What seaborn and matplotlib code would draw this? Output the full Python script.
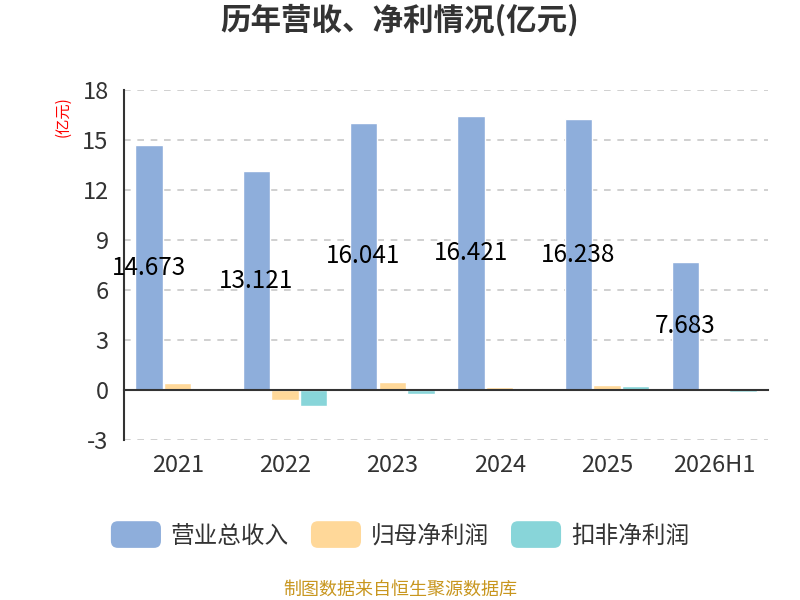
import numpy as np
import pandas as pd
import seaborn as sns
import matplotlib.pyplot as plt
from matplotlib.patches import FancyBboxPatch
from matplotlib.legend_handler import HandlerPatch
from matplotlib.ticker import FixedLocator

# data (亿元)
years = ['2021', '2022', '2023', '2024', '2025', '2026H1']
revenue = [14.673, 13.121, 16.041, 16.421, 16.238, 7.683]
net_profit = [0.39, -0.63, 0.45, 0.18, 0.30, -0.07]
deducted_profit = [0.09, -0.95, -0.25, 0.10, 0.22, -0.11]
series_names = ['营业总收入', '归母净利润', '扣非净利润']
colors = ['#8eaedb', '#ffd899', '#88d5d9']

df = pd.DataFrame({
    'year': years * 3,
    'value': revenue + net_profit + deducted_profit,
    'series': [n for n in series_names for _ in years],
})

sns.set_theme(style='white')
plt.rcParams['font.family'] = ['Noto Sans CJK SC', 'DejaVu Sans']
plt.rcParams['axes.unicode_minus'] = False

fig = plt.figure(figsize=(8, 6), dpi=100)
ax = fig.add_axes([0.155, 0.267, 0.805, 0.583])

sns.barplot(data=df, x='year', y='value', hue='series', palette=colors,
            saturation=1, width=0.8, gap=0.04, ax=ax, legend=False, zorder=2)

ax.set_ylim(-3, 18)
ax.set_xlim(-0.5, len(years) - 0.5)
ax.set_yticks(np.arange(-3, 19, 3))
ax.yaxis.grid(True, linestyle=(0, (4, 4)), color='#c8c8c8', linewidth=1.2, zorder=0)
ax.set_axisbelow(True)

# value labels for revenue, placed at half height of the bar
for i, v in enumerate(revenue):
    ax.text(i - 0.27, v / 2, f'{v:.3f}', ha='center', va='center',
            fontsize=17.5, color='black', zorder=5)

for side in ['top', 'right']:
    ax.spines[side].set_visible(False)
ax.spines['left'].set_color('#333333')
ax.spines['left'].set_linewidth(1.5)
ax.spines['bottom'].set_position(('data', 0))
ax.spines['bottom'].set_color('#333333')
ax.spines['bottom'].set_linewidth(1.5)
ax.spines['bottom'].set_zorder(4)

ax.xaxis.set_minor_locator(FixedLocator(np.arange(0.5, len(years), 1)))
ax.tick_params(axis='x', which='major', length=0, pad=46, labelsize=17, labelcolor='#333333')
ax.tick_params(axis='x', which='minor', length=7, width=1.5, color='#333333', direction='out')
ax.tick_params(axis='y', length=7, width=1.5, color='#333333', labelsize=17, labelcolor='#333333', pad=4)
ax.set_xlabel('')
ax.set_ylabel('(亿元)', color='red', fontsize=11)
ax.yaxis.set_label_coords(-0.082, 0.925)

fig.suptitle('历年营收、净利情况(亿元)', x=0.5, y=0.993, fontsize=22, fontweight='bold', color='#333333')


class RoundHandler(HandlerPatch):
    def create_artists(self, legend, orig_handle, xdescent, ydescent, width, height, fontsize, trans):
        p = FancyBboxPatch((-xdescent, -ydescent - 2), width, height + 4,
                           boxstyle='round,pad=0,rounding_size=5',
                           facecolor=orig_handle.get_facecolor(), edgecolor='none',
                           transform=trans)
        return [p]


handles = [plt.Rectangle((0, 0), 1, 1, facecolor=c) for c in colors]
fig.legend(handles, series_names, loc='center', bbox_to_anchor=(0.5, 0.107),
           ncol=3, frameon=False, fontsize=17, handlelength=2.12, handleheight=1.0,
           columnspacing=0.93, handletextpad=0.42, labelcolor='#333333',
           handler_map={plt.Rectangle: RoundHandler()})

fig.text(0.5, 0.017, '制图数据来自恒生聚源数据库', ha='center', va='center',
         fontsize=13, color='#c8961e')

fig.savefig('out.png', dpi=100)
